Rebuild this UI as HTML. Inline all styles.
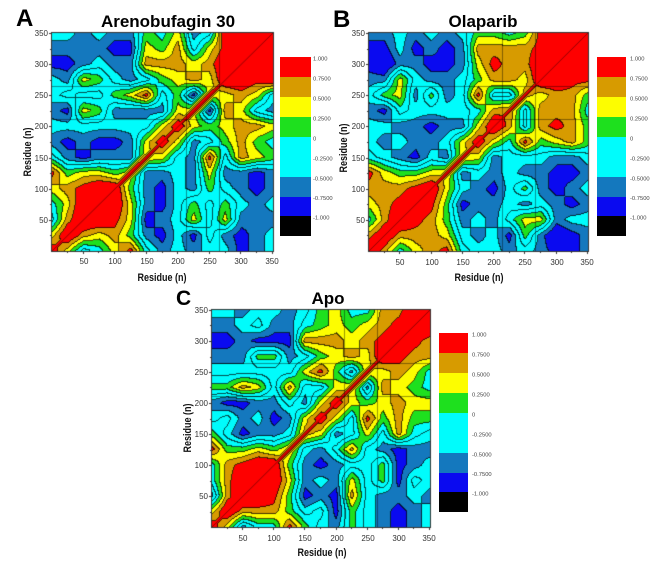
<!DOCTYPE html>
<html>
<head>
<meta charset="utf-8">
<style>
html,body{margin:0;padding:0;background:#fff;}
body{width:654px;height:568px;position:relative;overflow:hidden;font-family:"Liberation Sans",Arial,sans-serif;}
#cv{position:absolute;left:0;top:0;width:654px;height:568px;}
#ov{position:absolute;left:0;top:0;}
.bgA{position:absolute;left:52px;top:33px;width:221px;height:218px;background:#30d8e8;}
.bgB{position:absolute;left:369px;top:33px;width:219px;height:218px;background:#30d8e8;}
.bgC{position:absolute;left:212px;top:310px;width:218px;height:217px;background:#30d8e8;}
</style>
</head>
<body>
<div class="bgA"></div><div class="bgB"></div><div class="bgC"></div>
<canvas id="cv" width="654" height="568"></canvas>
<svg id="ov" width="654" height="568" viewBox="0 0 654 568" xmlns="http://www.w3.org/2000/svg" font-family="Liberation Sans, Arial, sans-serif">
  <text x="16" y="26" font-size="24" font-weight="bold" fill="#000">A</text>
  <text x="168" y="27" font-size="17" font-weight="bold" text-anchor="middle" fill="#000">Arenobufagin 30</text>
  <text x="333" y="27" font-size="24" font-weight="bold" fill="#000">B</text>
  <text x="483" y="27" font-size="17" font-weight="bold" text-anchor="middle" fill="#000">Olaparib</text>
  <text x="176" y="305" font-size="21" font-weight="bold" fill="#000">C</text>
  <text x="328" y="304" font-size="17" font-weight="bold" text-anchor="middle" fill="#000">Apo</text>

  <g font-size="11" font-weight="bold" fill="#111" text-anchor="middle">
    <text transform="translate(162,281) scale(0.82,1)">Residue (n)</text>
    <text transform="translate(479,281) scale(0.82,1)">Residue (n)</text>
    <text transform="translate(322,556) scale(0.82,1)">Residue (n)</text>
    <text transform="translate(31,152) rotate(-90) scale(0.82,1)">Residue (n)</text>
    <text transform="translate(347,148) rotate(-90) scale(0.82,1)">Residue (n)</text>
    <text transform="translate(191,428) rotate(-90) scale(0.82,1)">Residue (n)</text>
  </g>

  <g font-size="8" fill="#333">
    <g text-anchor="end">
      <text x="48" y="223">50</text><text x="48" y="192">100</text><text x="48" y="161">150</text>
      <text x="48" y="129">200</text><text x="48" y="98">250</text><text x="48" y="67">300</text><text x="48" y="36">350</text>
      <text x="365" y="223">50</text><text x="365" y="192">100</text><text x="365" y="161">150</text>
      <text x="365" y="129">200</text><text x="365" y="98">250</text><text x="365" y="67">300</text><text x="365" y="36">350</text>
      <text x="208" y="499">50</text><text x="208" y="468">100</text><text x="208" y="437">150</text>
      <text x="208" y="406">200</text><text x="208" y="375">250</text><text x="208" y="344">300</text><text x="208" y="313">350</text>
    </g>
    <g text-anchor="middle">
      <text x="84" y="264">50</text><text x="115" y="264">100</text><text x="147" y="264">150</text>
      <text x="178" y="264">200</text><text x="210" y="264">250</text><text x="241" y="264">300</text><text x="272" y="264">350</text>
      <text x="400" y="265">50</text><text x="432" y="265">100</text><text x="463" y="265">150</text>
      <text x="494" y="265">200</text><text x="525" y="265">250</text><text x="557" y="265">300</text><text x="587" y="265">350</text>
      <text x="243" y="541">50</text><text x="274" y="541">100</text><text x="305" y="541">150</text>
      <text x="337" y="541">200</text><text x="368" y="541">250</text><text x="399" y="541">300</text><text x="429" y="541">350</text>
    </g>
  </g>

  <g>
    <rect x="280" y="57" width="31" height="20" fill="#fe0000"/>
    <rect x="280" y="77" width="31" height="20" fill="#d79b00"/>
    <rect x="280" y="97" width="31" height="20" fill="#fdfd00"/>
    <rect x="280" y="117" width="31" height="20" fill="#1ee01e"/>
    <rect x="280" y="137" width="31" height="40" fill="#00fcfc"/>
    <rect x="280" y="177" width="31" height="20" fill="#1478be"/>
    <rect x="280" y="197" width="31" height="19" fill="#0a0af0"/>
    <rect x="280" y="216" width="31" height="20" fill="#000"/>
  </g>
  <g font-size="5.8" fill="#444">
    <text x="313" y="60.5">1.000</text><text x="313" y="80.5">0.7500</text><text x="313" y="100.5">0.5000</text>
    <text x="313" y="120.5">0.2500</text><text x="313" y="140.5">0</text><text x="313" y="160.5">-0.2500</text>
    <text x="313" y="180.5">-0.5000</text><text x="313" y="200">-0.7500</text><text x="313" y="219.5">-1.000</text>
  </g>

  <g>
    <rect x="597" y="57" width="29" height="20" fill="#fe0000"/>
    <rect x="597" y="77" width="29" height="20" fill="#d79b00"/>
    <rect x="597" y="97" width="29" height="20" fill="#fdfd00"/>
    <rect x="597" y="117" width="29" height="20" fill="#1ee01e"/>
    <rect x="597" y="137" width="29" height="40" fill="#00fcfc"/>
    <rect x="597" y="177" width="29" height="20" fill="#1478be"/>
    <rect x="597" y="197" width="29" height="19" fill="#0a0af0"/>
    <rect x="597" y="216" width="29" height="20" fill="#000"/>
  </g>
  <g font-size="5.8" fill="#444">
    <text x="630" y="60.5">1.000</text><text x="630" y="80.5">0.7500</text><text x="630" y="100.5">0.5000</text>
    <text x="630" y="120.5">0.2500</text><text x="630" y="140.5">0</text><text x="630" y="160.5">-0.2500</text>
    <text x="630" y="180.5">-0.5000</text><text x="630" y="200">-0.7500</text><text x="630" y="219.5">-1.000</text>
  </g>

  <g>
    <rect x="439" y="333" width="29" height="20" fill="#fe0000"/>
    <rect x="439" y="353" width="29" height="20" fill="#d79b00"/>
    <rect x="439" y="373" width="29" height="20" fill="#fdfd00"/>
    <rect x="439" y="393" width="29" height="20" fill="#1ee01e"/>
    <rect x="439" y="413" width="29" height="40" fill="#00fcfc"/>
    <rect x="439" y="453" width="29" height="20" fill="#1478be"/>
    <rect x="439" y="473" width="29" height="19" fill="#0a0af0"/>
    <rect x="439" y="492" width="29" height="20" fill="#000"/>
  </g>
  <g font-size="5.8" fill="#444">
    <text x="472" y="336.5">1.000</text><text x="472" y="356.5">0.7500</text><text x="472" y="376.5">0.5000</text>
    <text x="472" y="396.5">0.2500</text><text x="472" y="416.5">0</text><text x="472" y="436.5">-0.2500</text>
    <text x="472" y="456.5">-0.5000</text><text x="472" y="476">-0.7500</text><text x="472" y="495.5">-1.000</text>
  </g>
</svg>

<script>
(function(){
var COL=[[254,0,0],[215,155,0],[253,253,0],[30,224,30],[0,252,252],[0,252,252],[20,120,190],[10,10,240]];
var cv=document.getElementById('cv');
var ctx=cv.getContext('2d');

function panel(x0,y0,W,H,rows){
  var N=15,G=[],j,i,k;
  for(j=0;j<N;j++){G[j]=[];}
  for(j=0;j<N;j++){var r=rows[j];for(k=0;k<r.length;k++){i=j+k;var v=+r.charAt(k);G[j][i]=v;G[i][j]=v;}}
  var D=[];
  for(i=0;i<N;i++){
    var a;
    if(i===0)a=G[0][1];else if(i===N-1)a=G[N-1][N-2];else a=(G[i][i-1]+G[i][i+1])/2;
    D[i]=Math.min(9,a+2.5);
  }
  for(i=0;i<N;i++)G[i][i]=D[i];
  var img=ctx.createImageData(W,H),d=img.data;
  var L=new Int8Array(W*H);
  for(var py=0;py<H;py++){
    var ry=(1-(py+0.5)/H)*350,gy=ry/25,j0=Math.min(13,Math.floor(gy)),ty=gy-j0;
    for(var px=0;px<W;px++){
      var rx=(px+0.5)/W*350,gx=rx/25,i0=Math.min(13,Math.floor(gx)),tx=gx-i0;
      var v=(G[j0][i0]*(1-tx)+G[j0][i0+1]*tx)*(1-ty)+(G[j0+1][i0]*(1-tx)+G[j0+1][i0+1]*tx)*ty;
      var dd=Math.abs(rx-ry);
      var dg=dd<3.5?9.6-0.6*dd:7.5-0.3*(dd-3.5);
      if(dg>v)v=dg;
      var l=v>=7.5?0:v>=6.5?1:v>=5.5?2:v>=4.5?3:v>=3.5?4:v>=2.5?5:v>=1.5?6:7;
      L[py*W+px]=l;
    }
  }
  for(var py2=0;py2<H;py2++){
    for(var px2=0;px2<W;px2++){
      var idx=py2*W+px2,l2=L[idx],c=COL[l2],f=1;
      if((px2<W-1&&L[idx+1]!==l2)||(py2<H-1&&L[idx+W]!==l2))f=0.3;
      var o=idx*4;d[o]=c[0]*f;d[o+1]=c[1]*f;d[o+2]=c[2]*f;d[o+3]=255;
    }
  }
  ctx.putImageData(img,x0,y0);
  ctx.save();ctx.translate(x0,y0);
  ctx.lineWidth=1;
  ctx.strokeStyle='rgba(0,0,0,0.4)';
  [212,265].forEach(function(r){
    var yy=Math.round(H*(1-r/350))+0.5,xx=Math.round(W*r/350)+0.5;
    ctx.beginPath();ctx.moveTo(0,yy);ctx.lineTo(W,yy);ctx.stroke();
    ctx.beginPath();ctx.moveTo(xx,0);ctx.lineTo(xx,H);ctx.stroke();
  });
  ctx.strokeStyle='rgba(110,0,0,0.75)';
  ctx.beginPath();ctx.moveTo(0,H);ctx.lineTo(W,0);ctx.stroke();
  ctx.strokeStyle='#333';
  ctx.strokeRect(-0.5,-0.5,W+1,H+1);
  ctx.beginPath();
  for(var t=25;t<=350;t+=25){
    var len=(t%50===0)?3:2;
    var yy2=Math.round(H*(1-t/350))+0.5;
    ctx.moveTo(-len,yy2);ctx.lineTo(0,yy2);
    var xx2=Math.round(W*t/350)-0.5;
    ctx.moveTo(xx2,H);ctx.lineTo(xx2,H+len);
  }
  ctx.stroke();
  ctx.restore();
}

panel(52,33,221,218,[
"963468423233123","97675213142123","9986123636222","996213535323","95213253212",
"9223262212","963283765","96235754","9656776","917632","96763","9989","998","99","9"]);
panel(369,33,219,218,[
"974678433232112","97776323152012","9875232466233","985122323212","96321352123",
"9232322112","962333223","96485675","9737875","937774","96775","9988","989","99","9"]);
panel(212,310,218,217,[
"962448532532123","97775341532123","9985121732232","996232635143","95212335123",
"9324732122","962363743","96385755","9656766","927654","96764","9877","987","99","9"]);
})();
</script>
</body>
</html>
